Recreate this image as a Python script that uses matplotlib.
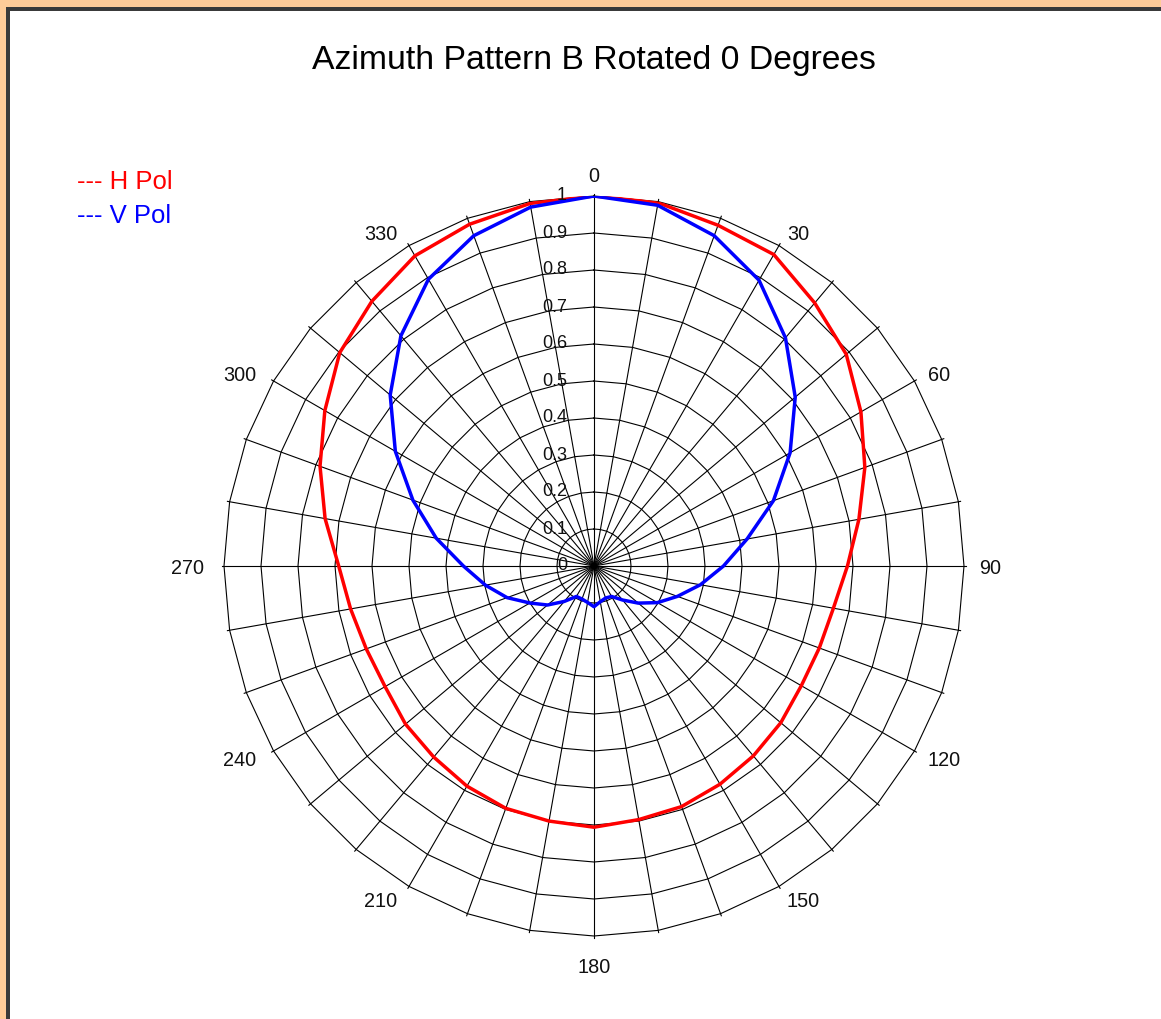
import numpy as np
import matplotlib.pyplot as plt
from matplotlib.patches import Rectangle

plt.rcParams['font.family'] = ['Liberation Sans', 'DejaVu Sans']

# azimuth angles in degrees, every 10 deg
angles = list(range(0, 360, 10))

# H Pol relative field
h_pol = [1.0, 0.997, 0.98, 0.972, 0.928, 0.89, 0.833, 0.779, 0.727,
         0.685, 0.657, 0.648, 0.647, 0.659, 0.67, 0.681, 0.692, 0.696,
         0.706, 0.70, 0.697, 0.687, 0.674, 0.665, 0.652, 0.655, 0.668,
         0.69, 0.738, 0.788, 0.84, 0.897, 0.934, 0.968, 0.983, 0.995]

# V Pol relative field
v_pol = [1.0, 0.99, 0.95, 0.892, 0.805, 0.71, 0.612, 0.516, 0.42,
         0.35, 0.292, 0.24, 0.198, 0.156, 0.12, 0.095, 0.092, 0.098,
         0.11, 0.10, 0.095, 0.095, 0.125, 0.164, 0.2, 0.25, 0.298,
         0.353, 0.433, 0.521, 0.62, 0.719, 0.812, 0.895, 0.95, 0.985]

r_rings = [0.1, 0.2, 0.3, 0.4, 0.5, 0.6, 0.7, 0.8, 0.9, 1.0]
r_labels = ['0', '0.1', '0.2', '0.3', '0.4', '0.5', '0.6', '0.7', '0.8', '0.9', '1']
angle_labels = list(range(0, 360, 30))

W, H = 1161, 1019
fig = plt.figure(figsize=(W/100, H/100), dpi=100)
ax = fig.add_axes([224/W, 83/H, 740/W, 740/H], projection='polar')
ax.set_theta_zero_location('N')
ax.set_theta_direction(-1)
ax.set_ylim(0, 1)
ax.grid(False)
ax.set_xticks([])
ax.set_yticks([])
ax.spines['polar'].set_visible(False)

# grid: rings drawn as 36-sided polygons, spokes every 10 degrees
tt = np.deg2rad(angles + [360])
for rr in r_rings:
    ax.plot(tt, np.full_like(tt, rr), color='black', lw=0.8, zorder=1, clip_on=False)
for a in angles:
    th = np.deg2rad(a)
    ax.plot([th, th], [0, 1.006], color='black', lw=0.8, zorder=1, clip_on=False)

# data lines
th = np.deg2rad(angles + [angles[0]])
ax.plot(th, h_pol + [h_pol[0]], color='#ff0000', lw=2.5, zorder=3)
ax.plot(th, v_pol + [v_pol[0]], color='#0000ff', lw=2.5, zorder=4)

# radial labels, right-aligned just left of the 0 spoke
for i, lab in enumerate(r_labels):
    ax.annotate(lab, xy=(0, i/10), xytext=(-19.5, 0), textcoords='offset points',
                ha='right', va='center', fontsize=13, color='#111111', zorder=5,
                annotation_clip=False)

# angle labels
for a in angle_labels:
    s = np.sin(np.deg2rad(a))
    if a == 0:
        ha, va, off = 'center', 'bottom', (0, -4)
    elif a == 180:
        ha, va, off = 'center', 'top', (0, -5)
    elif s > 0:
        ha, va, off = 'left', 'center_baseline', (0, 0)
    else:
        ha, va, off = 'right', 'center_baseline', (-3, 0)
    ax.annotate(str(a), xy=(np.deg2rad(a), 1.042), xytext=off, textcoords='offset points',
                ha=ha, va=va, fontsize=14.3, color='#111111', annotation_clip=False)

fig.text(594/W, 1 - 60/H, 'Azimuth Pattern B Rotated 0 Degrees',
         ha='center', va='center', fontsize=24.3)
fig.text(77/W, 1 - 182/H, '--- H Pol', color='#ff0000', fontsize=18.5,
         ha='left', va='center')
fig.text(77/W, 1 - 216/H, '--- V Pol', color='#0000ff', fontsize=18.5,
         ha='left', va='center')

# frame: orange band and dark line on top and left
fig.add_artist(Rectangle((0, 1 - 7/H), 1, 7/H, transform=fig.transFigure,
                         facecolor='#ffcc99', edgecolor='none'))
fig.add_artist(Rectangle((0, 0), 6/W, 1, transform=fig.transFigure,
                         facecolor='#ffcc99', edgecolor='none'))
fig.add_artist(Rectangle((6/W, 1 - 11/H), 1, 4/H, transform=fig.transFigure,
                         facecolor='#3a3a3a', edgecolor='none'))
fig.add_artist(Rectangle((6/W, 0), 4/W, 1 - 7/H, transform=fig.transFigure,
                         facecolor='#3a3a3a', edgecolor='none'))

fig.savefig('out.png', dpi=100)
